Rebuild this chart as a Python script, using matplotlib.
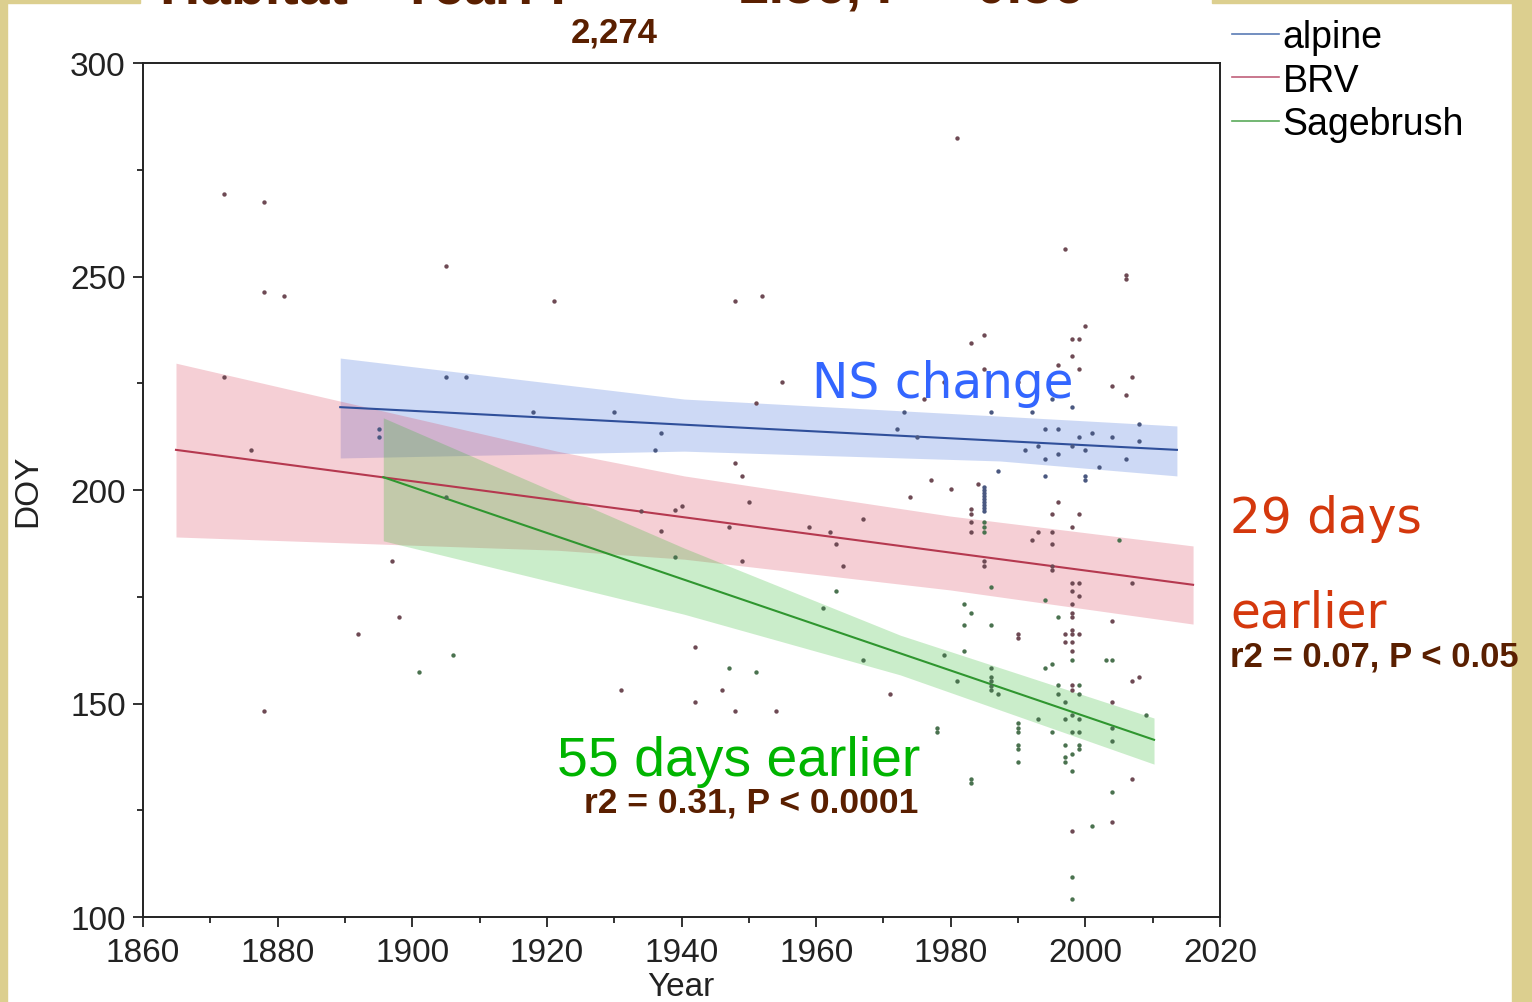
import numpy as np
import matplotlib
matplotlib.use("Agg")
import matplotlib.pyplot as plt
from matplotlib.patches import Rectangle
from matplotlib.lines import Line2D

plt.rcParams['font.family'] = ['Liberation Sans', 'DejaVu Sans']

# fitted lines with confidence bands
alpine_band_x = [1889.3, 1940.4, 1987.3, 2013.6]
alpine_upper = [230.9, 221.3, 217.3, 215.0]
alpine_fit = [219.4, 215.2, 211.3, 209.4]
alpine_lower = [207.5, 209.1, 206.8, 203.3]

brv_band_x = [1864.9, 1921.5, 1940.4, 1979.9, 2016.0]
brv_upper = [229.7, 209.1, 203.3, 193.9, 186.9]
brv_fit = [209.4, 197.5, 193.5, 185.2, 177.8]
brv_lower = [189.0, 185.9, 183.8, 176.6, 168.6]

sage_band_x = [1895.7, 1940.4, 1972.5, 2010.2]
sage_upper = [216.9, 186.4, 166.0, 146.6]
sage_fit = [203.0, 178.9, 161.6, 141.5]
sage_lower = [188.1, 170.9, 156.7, 135.8]

# observations
alpine_year = [1895, 1895, 1905, 1908, 1918, 1930, 1937, 1936, 1972, 1975, 1973,
               1986, 1992, 1994, 1996, 2001, 1999, 2004, 2008, 2008, 1993, 1998,
               1991, 2000, 1994, 1996, 2006, 2002, 2000, 2000, 1994, 1987, 1998,
               1995, 1985, 1985, 1985, 1985, 1985, 1985, 1985, 1985, 1985]
alpine_doy = [214.3, 212.4, 226.5, 226.5, 218.3, 218.3, 213.3, 209.4, 214.3, 212.4, 218.3,
              218.3, 218.3, 214.3, 214.3, 213.3, 212.4, 212.4, 215.5, 211.5, 210.3, 210.3,
              209.4, 209.4, 207.3, 208.4, 207.3, 205.4, 203.3, 202.3, 203.3, 204.4, 219.4,
              221.3, 200.7, 200.0, 199.3, 198.6, 197.9, 197.2, 196.5, 195.8, 195.1]

brv_year = [1872, 1878, 1878, 1881, 1905, 1921, 1872, 1876, 1981, 1997, 2006, 2006,
            1948, 1952, 2000, 1998, 1999, 1985, 1983, 1998, 1996, 1999, 1985, 2007,
            1955, 1979, 1990, 2004, 2006, 1976, 1951, 1948, 1949, 1977, 1980, 1984,
            1983, 1983, 1983, 1983, 1996, 1995, 1999, 1998, 1993, 1995, 1992, 1995,
            1974, 1950, 1967, 1947, 1959, 1962, 1963, 1949, 1964, 1985, 1985, 1995,
            1995, 2007, 1998, 1999, 1998, 1999, 1998, 1998, 1998, 2004, 1990, 1990,
            1997, 1998, 1998, 1999, 1997, 1998, 1998, 1934, 1939, 1940, 1937, 1897,
            1898, 1892, 1931, 1878, 1942, 1946, 1948, 1954, 1942, 1971, 1998, 1998,
            2007, 2008, 2004, 2007, 1998, 2004]
brv_doy = [269.3, 267.4, 246.4, 245.4, 252.5, 244.3, 226.5, 209.4, 282.4, 256.4, 250.4, 249.4,
           244.3, 245.4, 238.4, 235.4, 235.4, 236.3, 234.4, 231.4, 229.3, 228.3, 228.3, 226.5,
           225.3, 225.3, 225.3, 224.4, 222.2, 221.3, 220.4, 206.3, 203.3, 202.3, 200.2, 201.4,
           195.6, 194.4, 192.5, 190.2, 197.2, 194.4, 194.4, 191.3, 190.2, 190.2, 188.3, 187.4,
           198.4, 197.2, 193.2, 191.3, 191.3, 190.2, 187.4, 183.4, 182.2, 183.4, 182.2, 182.2,
           181.3, 178.2, 178.2, 178.2, 176.3, 175.2, 173.3, 171.2, 170.3, 169.3, 166.3, 165.3,
           166.3, 167.2, 166.3, 166.3, 164.4, 164.4, 162.3, 195.1, 195.3, 196.3, 190.4, 183.4,
           170.3, 166.3, 153.2, 148.2, 163.2, 153.2, 148.2, 148.2, 150.4, 152.2, 154.3, 153.2,
           155.3, 156.2, 150.4, 132.3, 120.1, 122.2]

sage_year = [1985, 1985, 1985, 1986, 1994, 1982, 1961, 1983, 1996, 1982, 1986, 1982,
             1979, 1967, 1998, 2003, 2004, 1995, 1994, 1947, 1951, 1986, 1986, 1986,
             1986, 1986, 1981, 1996, 1999, 1996, 1999, 1987, 1997, 1998, 1999, 1997,
             1993, 2009, 2004, 1990, 1990, 1990, 1978, 1978, 1995, 1998, 1999, 2004,
             1990, 1990, 1997, 1999, 1999, 1998, 1997, 1997, 1990, 1998, 1983, 1983,
             2001, 1998, 1998, 2004, 1905, 1906, 1901, 1963, 1939, 2005]
sage_doy = [192.5, 191.3, 190.2, 177.3, 174.2, 173.3, 172.4, 171.2, 170.3, 168.4, 168.4, 162.3,
            161.4, 160.2, 160.2, 160.2, 160.2, 159.3, 158.3, 158.3, 157.4, 158.3, 156.2, 155.3,
            154.1, 153.2, 155.3, 154.3, 154.3, 152.2, 152.2, 152.2, 150.4, 147.3, 146.4, 146.4,
            146.4, 147.3, 144.3, 145.4, 144.3, 143.3, 144.3, 143.3, 143.3, 143.3, 143.3, 141.2,
            140.3, 139.3, 140.3, 140.3, 139.3, 138.2, 137.5, 136.3, 136.3, 134.2, 132.3, 131.4,
            121.3, 109.4, 104.2, 129.3, 198.4, 161.4, 157.4, 176.3, 184.3, 188.3]

legend_labels = ['alpine', 'BRV', 'Sagebrush']

W, H = 1532, 1003
fig = plt.figure(figsize=(W / 100, H / 100), dpi=100)
fig.patch.set_facecolor('white')

beige = '#dccf8f'
fig.patches.append(Rectangle((0, 0), 7 / W, 1, transform=fig.transFigure, color=beige, zorder=0))
fig.patches.append(Rectangle((1512 / W, 0), 20 / W, 1, transform=fig.transFigure, color=beige, zorder=0))
fig.patches.append(Rectangle((0, 1 - 4 / H), 140 / W, 4 / H, transform=fig.transFigure, color=beige, zorder=0))
fig.patches.append(Rectangle((1212 / W, 1 - 4 / H), 320 / W, 4 / H, transform=fig.transFigure, color=beige, zorder=0))

ax = fig.add_axes([143 / W, 1 - 918 / H, (1220 - 143) / W, (918 - 64) / H])

groups = [
    (alpine_band_x, alpine_upper, alpine_fit, alpine_lower, '#3a6ad8', '#2f4f9a', alpine_year, alpine_doy, '#4a5880'),
    (brv_band_x, brv_upper, brv_fit, brv_lower, '#d9405a', '#b5384f', brv_year, brv_doy, '#6e4a54'),
    (sage_band_x, sage_upper, sage_fit, sage_lower, '#2db82d', '#2f962f', sage_year, sage_doy, '#4a724f'),
]
for bx, up, fit, lo, fcol, lcol, yr, dy, pcol in groups:
    ax.fill_between(bx, lo, up, color=fcol, alpha=0.25, linewidth=0, zorder=1)
    ax.plot([bx[0], bx[-1]], [fit[0], fit[-1]], color=lcol, lw=1.5, zorder=3)
for bx, up, fit, lo, fcol, lcol, yr, dy, pcol in groups:
    ax.scatter(yr, dy, s=10, color=pcol, linewidths=0, zorder=4)

ax.set_xlim(1860, 2020)
ax.set_ylim(100, 300)
ax.set_xticks(np.arange(1860, 2021, 20))
ax.set_xticks(np.arange(1870, 2020, 20), minor=True)
ax.set_yticks(np.arange(100, 301, 50))
ax.set_yticks(np.arange(125, 300, 50), minor=True)
ax.tick_params(which='major', direction='out', length=7.5, width=1.3, labelsize=24, pad=5, color='#222222',
               labelcolor='#222222')
ax.tick_params(axis='x', which='major', pad=7)
ax.tick_params(which='minor', direction='out', length=4.5, width=1.3, color='#222222')
for s in ax.spines.values():
    s.set_linewidth(1.4)
    s.set_color('#222222')
ax.set_xlabel('Year', fontsize=24, color='#222222')
ax.set_ylabel('DOY', fontsize=24, color='#222222')
ax.xaxis.set_label_coords(0.499, -0.063)
ax.yaxis.set_label_coords(-0.093, 0.5)

handles = [Line2D([], [], color=c, lw=1.2) for c in ['#5a7bb5', '#c0607a', '#5aaa5a']]
fig.legend(handles, legend_labels, loc='upper left', bbox_to_anchor=(1232 / W, 1 - 20 / H),
           frameon=False, fontsize=27, handlelength=1.25, handletextpad=0.1, labelspacing=0.2,
           borderaxespad=0, borderpad=0)

brown = '#5a1f00'
fig.text(812 / W, 1 - 398 / H, 'NS change', fontsize=35, color='#3366ff', family='DejaVu Sans')
fig.text(1230 / W, 1 - 533 / H, '29 days', fontsize=35, color='#d4380d', family='DejaVu Sans')
fig.text(1230 / W, 1 - 628 / H, 'earlier', fontsize=35, color='#d4380d', family='DejaVu Sans')
fig.text(1230 / W, 1 - 667 / H, 'r2 = 0.07, P < 0.05', fontsize=25, color=brown, weight='bold')
fig.text(557 / W, 1 - 776 / H, '55 days earlier', fontsize=39.8, color='#00b400')
fig.text(918 / W, 1 - 813 / H, 'r2 = 0.31, P < 0.0001', fontsize=25.5, color=brown, weight='bold', ha='right')
fig.text(614 / W, 1 - 42 / H, '2,274', fontsize=25, color=brown, weight='bold', ha='center')
fig.text(160 / W, 1 - 3 / H, 'Habitat * Year: F', fontsize=40, color=brown, weight='bold')
fig.text(690 / W, 1 - 3 / H, '= 1.36, P = 0.56', fontsize=40, color=brown, weight='bold')

fig.savefig('out.png', dpi=100)
